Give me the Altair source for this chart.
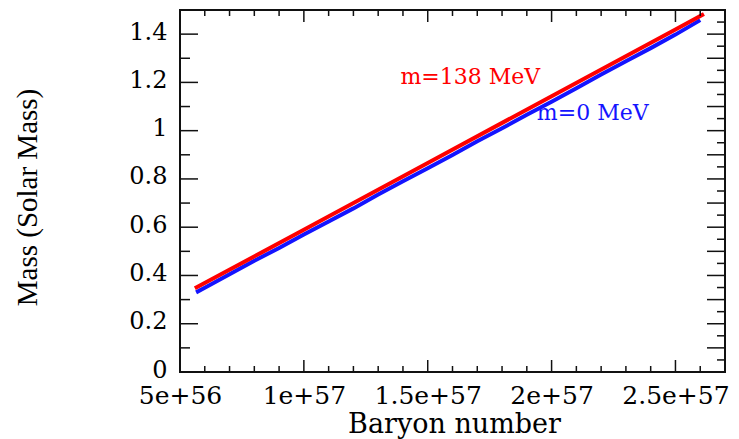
import altair as alt
import pandas as pd

# ---- data ----
baryon_red = [5.6e56, 1.0e57, 1.5e57, 2.0e57, 2.5e57, 2.615e57]
mass_red = [0.347, 0.589, 0.866, 1.143, 1.419, 1.483]

baryon_blue = [5.65e56, 6e56, 7e56, 8e56, 9e56, 1.0e57, 1.1e57, 1.2e57, 1.3e57, 1.4e57,
               1.5e57, 1.6e57, 1.7e57, 1.8e57, 1.9e57, 2.0e57, 2.1e57, 2.2e57, 2.3e57,
               2.4e57, 2.5e57, 2.6e57]
mass_blue = [0.330, 0.349, 0.405, 0.461, 0.514, 0.570, 0.624, 0.678, 0.735, 0.790,
             0.844, 0.899, 0.956, 1.010, 1.066, 1.120, 1.176, 1.233, 1.288,
             1.342, 1.398, 1.458]

label_text = ["m=138 MeV", "m=0 MeV"]
label_baryon = [1.672e57, 2.166e57]
label_mass = [1.222, 1.073]

x_ticks_major = [5e56, 1.0e57, 1.5e57, 2.0e57, 2.5e57]
x_ticks_minor = [6e56, 7e56, 8e56, 9e56, 1.1e57, 1.2e57, 1.3e57, 1.4e57, 1.6e57,
                 1.7e57, 1.8e57, 1.9e57, 2.1e57, 2.2e57, 2.3e57, 2.4e57, 2.6e57]
y_ticks_major_left = [0.0, 0.2, 0.4, 0.6, 0.8, 1.0, 1.2, 1.4]
y_ticks_minor_left = [0.1, 0.3, 0.5, 0.7, 0.9, 1.1, 1.3]
y_ticks_major_right = [0.1, 0.2, 0.3, 0.4, 0.5, 0.6, 0.7, 0.8, 0.9, 1.0, 1.1, 1.2, 1.3, 1.4]
y_ticks_minor_right = [0.05, 0.15, 0.25, 0.35, 0.45, 0.55, 0.65, 0.75, 0.85, 0.95,
                       1.05, 1.15, 1.25, 1.35, 1.45]

W, H = 545, 362

xscale = alt.Scale(domain=[5e56, 2.7e57], nice=False, zero=False)
yscale = alt.Scale(domain=[0, 1.5], nice=False, zero=False)

series_domain = ["m=138 MeV", "m=0 MeV"]
series_range = ["#ff0000", "#1414ff"]
cscale = alt.Scale(domain=series_domain, range=series_range)

df_red = pd.DataFrame({"baryon": baryon_red, "mass": mass_red, "series": "m=138 MeV"})
df_blue = pd.DataFrame({"baryon": baryon_blue, "mass": mass_blue, "series": "m=0 MeV"})
df_lab = pd.DataFrame({"baryon": label_baryon, "mass": label_mass, "series": label_text})

x_axis = alt.Axis(values=x_ticks_major, format="~e", ticks=False, domain=False, grid=False,
                  labelFont="DejaVu Serif", labelFontSize=25, labelColor="black",
                  labelPadding=11, labelFlush=False, labelOverlap=False,
                  title="Baryon number", titleFont="DejaVu Serif", titleFontSize=27,
                  titleFontWeight="normal", titleColor="black",
                  titleX=274, titleY=60, titleBaseline="alphabetic", titleAlign="center")
y_axis = alt.Axis(values=y_ticks_major_left, format="~g", ticks=False, domain=False, grid=False,
                  labelFont="DejaVu Serif", labelFontSize=24, labelColor="black",
                  labelPadding=13, labelOverlap=False, labelOffset=-2,
                  title="Mass (Solar Mass)", titleFont="Liberation Serif", titleFontSize=29,
                  titleFontWeight="normal", titleColor="black",
                  titleX=-153, titleY=187, titleBaseline="middle", titleAlign="center",
                  titleAngle=270)

X = alt.X("baryon:Q", scale=xscale, axis=x_axis)
Y = alt.Y("mass:Q", scale=yscale, axis=y_axis)
C = alt.Color("series:N", scale=cscale, legend=None)

blue = alt.Chart(df_blue).mark_line(strokeWidth=4).encode(x=X, y=Y, color=C)
red = alt.Chart(df_red).mark_line(strokeWidth=4).encode(x=X, y=Y, color=C)
labels = alt.Chart(df_lab).mark_text(font="DejaVu Serif", fontSize=22, align="center",
                                     baseline="middle").encode(x=X, y=Y, text="series:N", color=C)


def yticks(vals, x0, x1):
    return alt.Chart(pd.DataFrame({"mass": vals})).mark_rule(color="#111", strokeWidth=1.5).encode(
        y=Y, x=alt.value(x0), x2=alt.value(x1))


def xticks(vals, y0, y1):
    return alt.Chart(pd.DataFrame({"baryon": vals})).mark_rule(color="#111", strokeWidth=1.5).encode(
        x=X, y=alt.value(y0), y2=alt.value(y1))


tick_layers = [
    yticks(y_ticks_major_left, 0, 18),
    yticks(y_ticks_minor_left, 0, 10),
    yticks(y_ticks_major_right, W, W - 18),
    yticks(y_ticks_minor_right, W, W - 8),
    xticks(x_ticks_major, H, H - 12),
    xticks(x_ticks_minor, H, H - 6),
    xticks(x_ticks_major, 0, 12),
    xticks(x_ticks_minor, 0, 6),
]

chart = alt.layer(blue, red, labels, *tick_layers).properties(
    width=W, height=H,
    autosize=alt.AutoSizeParams(type="none"),
    padding={"left": 180, "top": 10, "right": 14, "bottom": 67},
    background="white",
).configure_view(stroke="#111", strokeWidth=2)

chart.save("out.html", embed_options={"renderer": "svg", "actions": False})
